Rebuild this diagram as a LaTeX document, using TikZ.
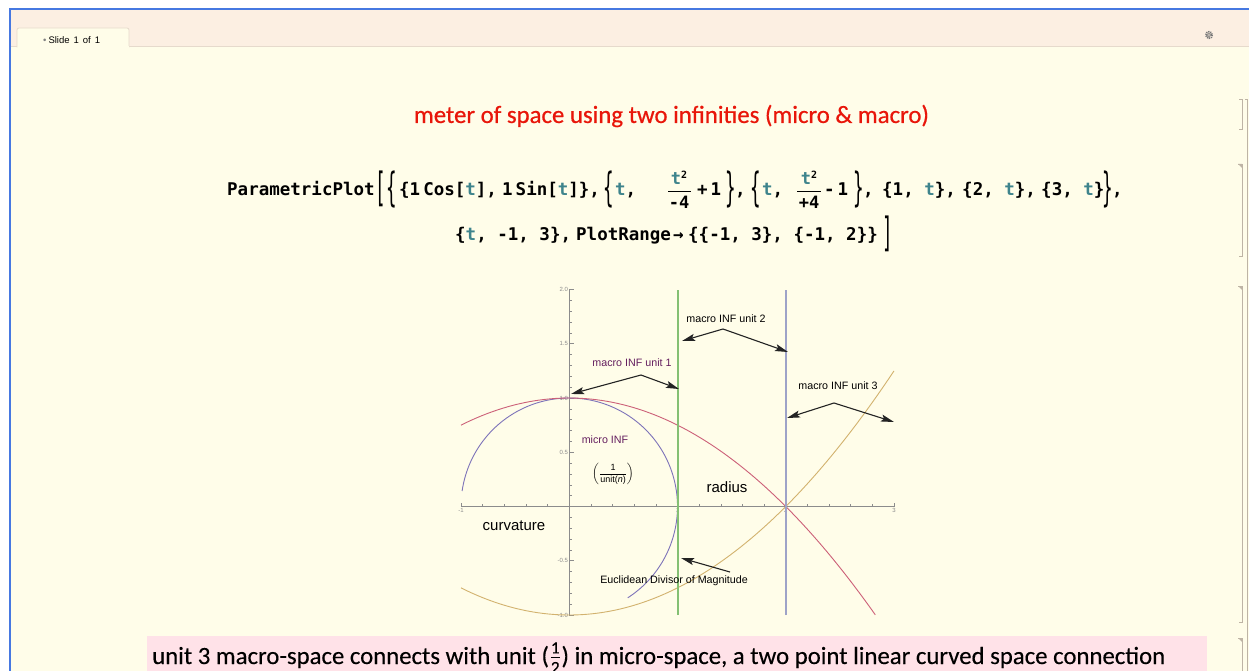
\documentclass[tikz,border=0pt]{standalone}
\usepackage{amsmath}
\usepackage{fontspec}
\usepackage{graphicx}
\usetikzlibrary{arrows.meta}
\setmainfont{Carlito}
\newfontfamily\titlefont{Carlito}[FakeBold=0.6]
\newfontfamily\notefont{Carlito}[FakeBold=0.3]
\newfontfamily\codefont{DejaVu Sans Mono}
\newfontfamily\plotfont{Liberation Sans}
\definecolor{bgcream}{RGB}{255,253,233}
\definecolor{tabbar}{RGB}{252,239,226}
\definecolor{tabedge}{RGB}{230,218,204}
\definecolor{winblue}{RGB}{70,120,225}
\definecolor{brk}{RGB}{190,180,165}
\definecolor{pinkbox}{RGB}{255,226,232}
\definecolor{tealv}{RGB}{62,132,140}
\definecolor{titlered}{RGB}{232,22,10}
\definecolor{plCirc}{RGB}{125,115,185}
\definecolor{plRed}{RGB}{204,96,120}
\definecolor{plGold}{RGB}{210,178,110}
\definecolor{plGreen}{RGB}{132,192,115}
\definecolor{plBlue}{RGB}{158,163,200}
\definecolor{purp}{RGB}{100,30,95}
\definecolor{axgrey}{RGB}{140,140,140}
\definecolor{arrc}{RGB}{35,35,35}
\definecolor{gearc}{RGB}{120,120,120}
\newcommand\tv{\textcolor{tealv}{t}}
\newcommand\sq{\raisebox{6pt}{\fontsize{10}{10}\selectfont 2}}
\begin{document}
\begin{tikzpicture}[x=1pt,y=-1pt,
  code/.style={font=\codefont\bfseries\fontsize{17.5}{20}\selectfont, anchor=base west, inner sep=0pt},
  fracpart/.style={font=\codefont\bfseries\fontsize{17}{20}\selectfont, anchor=base, inner sep=0pt},
  bigb/.style={font=\codefont\fontsize{17.5}{20}\selectfont, inner sep=0pt, anchor=center},
  lbl/.style={font=\plotfont\fontsize{10.7}{12}\selectfont, inner sep=0pt, text=black},
  bigl/.style={font=\plotfont\fontsize{15}{17}\selectfont, inner sep=0pt, text=black},
  tick/.style={font=\plotfont\fontsize{6}{7}\selectfont, text=axgrey, inner sep=1.2pt},
  axis/.style={draw=axgrey, line width=0.6pt},
  curve/.style={line width=0.9pt},
  vline/.style={line width=2pt},
  arr/.style={draw=arrc, line width=1.1pt, -{Stealth[length=13pt,width=7pt,inset=2.5pt]}},
  bracket/.style={draw=brk, line width=0.8pt},
]
\useasboundingbox (0,0) rectangle (1249,671);
% window
\fill[white] (0,0) rectangle (1249,671);
\fill[bgcream] (10,10) rectangle (1249,671);
\fill[tabbar] (10,10) rectangle (1249,46);
\draw[tabedge, line width=0.8pt] (10,46.5) -- (1249,46.5);
\draw[tabedge, fill=bgcream, rounded corners=2pt, line width=0.8pt] (17,47.5) -- (17,28) -- (129,28) -- (129,47.5);
\fill[bgcream] (17.5,46) rectangle (128.5,48);
\fill[winblue] (8.5,8.5) rectangle (1249,10.5);
\fill[winblue] (8.5,8.5) rectangle (10.5,671);
\node[font=\plotfont\fontsize{9.5}{11}\selectfont, inner sep=0pt, anchor=base west] (tab) at (43,43.5) {\textcolor{gray}{\textbullet}\hspace{2pt}Slide\hspace{4pt}1\hspace{4pt}of\hspace{4pt}1};
% gear
\draw[gearc, line width=1.8pt, dash pattern=on 1.1pt off 0.9pt] (1209,35) circle (3.2);
\draw[gearc, line width=0.8pt, fill=tabbar] (1209,35) circle (1.6);
% cell brackets
\draw[bracket] (1239,99) -- (1242,99) -- (1242,129) -- (1239,129);
\draw[bracket] (1245,99) -- (1247,99) -- (1247,671);
\draw[bracket] (1238,164) -- (1242,164) -- (1242,256) -- (1239,256);
\fill[brk] (1238,164) -- (1242,164) -- (1242,168) -- cycle;
\draw[bracket] (1238,286) -- (1242,286) -- (1242,622) -- (1239,622);
\fill[brk] (1238,286) -- (1242,286) -- (1242,290) -- cycle;
\draw[bracket] (1238,638) -- (1242,638) -- (1242,672);
\fill[brk] (1238,638) -- (1242,638) -- (1242,642) -- cycle;
% title
\node[font=\titlefont\fontsize{22}{26}\selectfont, text=titlered, inner sep=0pt] (title) at (671.5,116) {\resizebox{515pt}{!}{meter of space using two infinities (micro \& macro)}};
% code line 1
\node[code] (pp) at (227,195) {ParametricPlot};
\node[bigb] (lb1) at (381,189) {\scalebox{1}[2.3]{[}};
\node[bigb] (lc1) at (392,189) {\scalebox{1}[2.3]{\{}};
\node[code] (c1) at (399,195) {\{1\hspace{3pt}Cos[\tv],};
\node[code] (c2) at (502,195) {1\hspace{3pt}Sin[\tv]\},};
\node[bigb] (lc2) at (609,189) {\scalebox{1}[2.3]{\{}};
\node[code] (c3) at (615,195) {\tv,};
\node[fracpart] (n1) at (679,185) {\tv\sq};
\draw[line width=1pt] (668,191) -- (691,191);
\node[fracpart] (d1) at (679,208) {-4};
\node[code] (c4) at (697,195) {+\hspace{3pt}1};
\node[bigb] (rc2) at (731,189) {\scalebox{1}[2.3]{\}}};
\node[code] (c5) at (735,195) {,};
\node[bigb] (lc3) at (756,189) {\scalebox{1}[2.3]{\{}};
\node[code] (c6) at (762,195) {\tv,};
\node[fracpart] (n2) at (809,185) {\tv\sq};
\draw[line width=1pt] (797,191) -- (821,191);
\node[fracpart] (d2) at (809,208) {+4};
\node[code] (c7) at (824,195) {-\hspace{3pt}1};
\node[bigb] (rc3) at (859,189) {\scalebox{1}[2.3]{\}}};
\node[code] (c8) at (863,195) {,};
\node[code] (c9) at (882,195) {\{1, \tv\},};
\node[code] (c10) at (962,195) {\{2, \tv\},};
\node[code] (c11) at (1041,195) {\{3, \tv\}};
\node[bigb] (rc1) at (1108,189) {\scalebox{1}[2.3]{\}}};
\node[code] (c12) at (1112,195) {,};
% code line 2
\node[code] (l2a) at (455,240) {\{\tv, -1, 3\},};
\node[code] (l2b) at (576,240) {PlotRange};
\node[code] (l2c) at (673,240) {→};
\node[code] (l2d) at (688,240) {\{\{-1, 3\}, \{-1, 2\}\}};
\node[bigb] (rb1) at (888,234) {\scalebox{1}[2.3]{]}};
% plot
\begin{scope}[shift={(569.25pt,-506.5pt)}, x=108.25pt, y=108.5pt]
  \draw[axis] (-1,0) -- (3,0);
  \draw[axis] (0,-1) -- (0,2);
  \foreach \i in {-5,...,15} { \draw[axis] (\i/5,0) -- ++(0pt,2.5pt); }
  \foreach \i in {-1,0,1,2,3} { \draw[axis] (\i,0) -- ++(0pt,4pt); }
  \foreach \j in {-10,...,20} { \draw[axis] (0,\j/10) -- ++(2.5pt,0pt); }
  \foreach \j in {-1,-0.5,0.5,1,1.5,2} { \draw[axis] (0,\j) -- ++(4.5pt,0pt); }
  \node[tick, anchor=east] (y20) at (0,2) {2.0};
  \node[tick, anchor=east] (y15) at (0,1.5) {1.5};
  \node[tick, anchor=east] (y10) at (0,1) {1.0};
  \node[tick, anchor=east] (y05) at (0,0.5) {0.5};
  \node[tick, anchor=east] (ym05) at (0,-0.5) {-0.5};
  \node[tick, anchor=east] (ym10) at (0,-1) {-1.0};
  \node[tick, anchor=north] (xm1) at (-1,0) {-1};
  \node[tick, anchor=north] (x1) at (1,0) {1};
  \node[tick, anchor=north] (x2) at (2,0) {2};
  \node[tick, anchor=north] (x3) at (3,0) {3};
  \draw[draw=plCirc, curve] plot[domain=-1:3, samples=140, variable=\s] ({cos(\s r)},{sin(\s r)});
  \draw[draw=plRed, curve] plot[domain=-1:2.8284, samples=80, variable=\s] (\s,{1-\s*\s/4});
  \draw[draw=plGold, curve] plot[domain=-1:3, samples=80, variable=\s] (\s,{\s*\s/4-1});
  \draw[draw=plGreen, vline] (1,-1) -- (1,2);
  \draw[draw=plBlue, vline] (2,-1) -- (2,2);
\end{scope}
% plot labels and arrows
\node[lbl, text=purp] (u1) at (632,363) {macro INF unit 1};
\coordinate (j1) at (641,375);
\coordinate (t1a) at (571,394);
\coordinate (t1b) at (679,389);
\draw[arr] (j1) -- (t1a);
\draw[arr] (j1) -- (t1b);
\node[lbl] (u2) at (726,319) {macro INF unit 2};
\coordinate (j2) at (723,329);
\coordinate (t2a) at (682,341);
\coordinate (t2b) at (788,352);
\draw[arr] (j2) -- (t2a);
\draw[arr] (j2) -- (t2b);
\node[lbl] (u3) at (838,386) {macro INF unit 3};
\coordinate (j3) at (834,403);
\coordinate (t3a) at (787,418);
\coordinate (t3b) at (894,422);
\draw[arr] (j3) -- (t3a);
\draw[arr] (j3) -- (t3b);
\node[lbl, text=purp] (micro) at (605,440) {micro INF};
\node[font=\plotfont\fontsize{9}{10}\selectfont, inner sep=0pt] (frac) at (613,474) {$\left(\dfrac{\text{1}}{\text{unit(\textit{n})}}\right)$};
\node[bigl] (curv) at (514,526) {curvature};
\node[bigl] (rad) at (727,487) {radius};
\node[lbl] (eucl) at (674,581) {Euclidean Divisor of Magnitude};
\coordinate (j4) at (730,572);
\coordinate (t4) at (681,558);
\draw[arr] (j4) -- (t4);
% bottom text
\fill[pinkbox] (147,636) rectangle (1207,672);
\node[font=\notefont\fontsize{23}{26}\selectfont, anchor=base west, inner sep=0pt] (note) at (152,664) {\resizebox{1013pt}{!}{unit 3 macro-space connects with unit (\kern0.5pt$\frac{\text{1}}{\text{2}}$\kern0.5pt) in micro-space, a two point linear curved space connection}};
\end{tikzpicture}
\end{document}
